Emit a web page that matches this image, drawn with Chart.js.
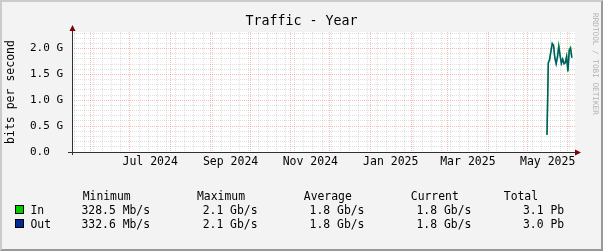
<!DOCTYPE html>
<html>
<head>
<meta charset="utf-8">
<script src="https://cdn.jsdelivr.net/npm/chart.js@4.4.0/dist/chart.umd.min.js"></script>
<style>
  html, body { margin: 0; padding: 0; background: #f3f3f3; }
  #wrap { position: relative; width: 603px; height: 251px; background: #f3f3f3; overflow: hidden;
          font-family: 'DejaVu Sans Mono', monospace; color: #000; }
  #chart { position: absolute; left: 0; top: 0; }
  #title { position: absolute; left: 0; top: 13px; width: 603px; text-align: center;
           font-size: 13.3px; line-height: 16px; }
  #credit { position: absolute; left: 590px; top: 13px; writing-mode: vertical-rl;
            font-size: 7.7px; line-height: 10px; color: #b0b0b0; white-space: nowrap; }
  .lg { position: absolute; font-size: 11.4px; line-height: 14px; white-space: pre; }
  .box { position: absolute; left: 15px; width: 7px; height: 7px; border: 1px solid #000; }
  #frame { position: absolute; left: 0; top: 0; width: 603px; height: 251px; box-sizing: border-box;
           border: 2px solid; border-color: #cbcbcb #999 #999 #cbcbcb; pointer-events: none; }
</style>
</head>
<body>
<div id="wrap">
  <canvas id="chart" width="603" height="251"></canvas>
  <div id="title">Traffic - Year</div>
  <div id="credit">RRDTOOL / TOBI OETIKER</div>
  <div id="legend"></div>
  <div id="frame"></div>
</div>
<script>
// daily samples (Gb/s)
const dates = ['2025-05-16', '2025-05-17', '2025-05-18', '2025-05-19', '2025-05-20',
               '2025-05-21', '2025-05-22', '2025-05-23', '2025-05-24', '2025-05-25',
               '2025-05-26', '2025-05-27', '2025-05-28', '2025-05-29', '2025-05-30',
               '2025-05-31', '2025-06-01', '2025-06-02', '2025-06-03', '2025-06-04'];
const inGbps = [0.3285, 1.73, 1.80, 1.96, 2.09, 2.07, 1.83, 1.72, 1.85, 2.06,
                1.88, 1.72, 1.80, 1.72, 1.74, 1.85, 1.55, 1.98, 2.02, 1.83];
const outGbps = [0.3326, 1.72, 1.78, 1.94, 2.10, 2.05, 1.81, 1.70, 1.83, 2.03,
                 1.86, 1.71, 1.79, 1.70, 1.72, 1.84, 1.57, 1.96, 2.00, 1.82];

// visible time window and y range
const viewStart = '2024-05-17T17:00Z';
const viewEnd = '2025-06-06T10:00Z';
const yMax = 2.32;

// tick labels
const monthNames = ['Jan', 'Feb', 'Mar', 'Apr', 'May', 'Jun', 'Jul', 'Aug', 'Sep', 'Oct', 'Nov', 'Dec'];
const xLabelMonths = ['2024-07', '2024-09', '2024-11', '2025-01', '2025-03', '2025-05'];
const yLabelValues = [0, 0.5, 1.0, 1.5, 2.0];

// legend table
const legendHeaders = ['Minimum', 'Maximum', 'Average', 'Current', 'Total'];
const seriesNames = ['In', 'Out'];
const minimums = ['328.5 Mb/s', '332.6 Mb/s'];
const maximums = ['2.1 Gb/s', '2.1 Gb/s'];
const averages = ['1.8 Gb/s', '1.8 Gb/s'];
const currents = ['1.8 Gb/s', '1.8 Gb/s'];
const totals = ['3.1 Pb', '3.0 Pb'];

const IN_COLOR = '#00cc00';
const OUT_COLOR = '#002a97';
const MINOR = 'rgba(150,150,150,0.3)';
const MAJOR = 'rgba(250,90,90,0.42)';
const FONT = 'DejaVu Sans Mono';

const BASE = Date.UTC(2024, 0, 1);   // a Monday
const dayOf = s => (Date.parse(s) - BASE) / 864e5;
const xMin = dayOf(viewStart);
const xMax = dayOf(viewEnd);

// x ticks: weekly minor lines, month major lines, mid-month labels
function buildXTicks() {
  const ticks = [];
  const months = new Set();
  const d0 = new Date(BASE + xMin * 864e5);
  let y = d0.getUTCFullYear(), m = d0.getUTCMonth() + 1;
  while (true) {
    const d = (Date.UTC(y, m, 1) - BASE) / 864e5;
    if (d > xMax) break;
    months.add(d);
    ticks.push({ value: d, kind: 'month' });
    m++;
  }
  for (let d = Math.ceil(xMin / 7) * 7; d <= xMax; d += 7) {
    if (!months.has(d)) ticks.push({ value: d, kind: 'week' });
  }
  xLabelMonths.forEach(s => {
    const [yy, mm] = s.split('-').map(Number);
    const a = (Date.UTC(yy, mm - 1, 1) - BASE) / 864e5;
    const b = (Date.UTC(yy, mm, 1) - BASE) / 864e5;
    ticks.push({ value: (a + b) / 2, kind: 'label', text: monthNames[mm - 1] + ' ' + yy });
  });
  return ticks.sort((a, b) => a.value - b.value);
}

const plotBg = {
  id: 'plotBg',
  beforeDraw(chart) {
    const { ctx, chartArea: a } = chart;
    ctx.save();
    ctx.fillStyle = '#ffffff';
    ctx.fillRect(a.left, a.top, a.right - a.left, a.bottom - a.top);
    ctx.restore();
  }
};

const rrdAxes = {
  id: 'rrdAxes',
  afterDraw(chart) {
    const { ctx, chartArea: a } = chart;
    ctx.save();
    ctx.strokeStyle = '#303030';
    ctx.lineWidth = 1;
    ctx.beginPath();
    ctx.moveTo(a.left - 4, a.bottom + 0.5);
    ctx.lineTo(a.right + 1, a.bottom + 0.5);
    ctx.moveTo(a.left + 0.5, a.bottom + 3);
    ctx.lineTo(a.left + 0.5, a.top - 2);
    ctx.stroke();
    ctx.fillStyle = '#7f0000';
    ctx.beginPath();
    ctx.moveTo(a.left - 2.5, a.top - 1);
    ctx.lineTo(a.left + 3.5, a.top - 1);
    ctx.lineTo(a.left + 0.5, a.top - 7);
    ctx.closePath();
    ctx.fill();
    ctx.beginPath();
    ctx.moveTo(a.right, a.bottom - 2.5);
    ctx.lineTo(a.right, a.bottom + 3.5);
    ctx.lineTo(a.right + 6, a.bottom + 0.5);
    ctx.closePath();
    ctx.fill();
    ctx.restore();
  }
};

new Chart(document.getElementById('chart'), {
  type: 'line',
  data: {
    datasets: [{
      label: 'In',
      data: dates.map((d, i) => ({ x: dayOf(d), y: inGbps[i] })),
      borderColor: IN_COLOR,
      borderWidth: 1.5,
      pointRadius: 0,
      tension: 0,
      order: 1
    }, {
      label: 'Out',
      data: dates.map((d, i) => ({ x: dayOf(d), y: outGbps[i] })),
      borderColor: 'rgba(0,42,151,0.7)',
      borderWidth: 1.5,
      pointRadius: 0,
      tension: 0,
      order: 0
    }]
  },
  options: {
    responsive: false,
    animation: false,
    layout: { padding: { left: 0, right: 28, top: 32, bottom: 0 } },
    plugins: { legend: { display: false }, tooltip: { enabled: false } },
    scales: {
      x: {
        type: 'linear', min: xMin, max: xMax, bounds: 'data',
        afterBuildTicks: s => { s.ticks = buildXTicks(); },
        afterFit: s => { s.height = 99; },
        grid: {
          drawTicks: false, lineWidth: 1,
          color: c => {
            const k = c.tick && c.tick.kind;
            return k === 'month' ? MAJOR : k === 'week' ? MINOR : 'rgba(0,0,0,0)';
          }
        },
        border: { display: false, dash: [1, 1] },
        ticks: {
          autoSkip: false, maxRotation: 0, padding: 3, color: '#000',
          font: { family: FONT, size: 11.5 },
          callback: (v, i, ticks) => (ticks[i] && ticks[i].kind === 'label') ? ticks[i].text : ''
        }
      },
      y: {
        min: 0, max: yMax,
        afterBuildTicks: s => {
          const t = [];
          for (let i = 0; i <= Math.floor(yMax * 10); i++) t.push({ value: i / 10 });
          s.ticks = t;
        },
        afterFit: s => { s.width = 72; },
        grid: {
          drawTicks: false, lineWidth: 1,
          color: c => {
            const r = Math.round(c.tick.value * 10);
            if (r === 0) return 'rgba(0,0,0,0)';
            return r % 5 === 0 ? MAJOR : MINOR;
          }
        },
        border: { display: false, dash: [1, 1] },
        ticks: {
          autoSkip: false, padding: 9, color: '#000',
          font: { family: FONT, size: 11 },
          callback: v => {
            const hit = yLabelValues.find(l => Math.abs(l - v) < 1e-6);
            if (hit === undefined) return '';
            return hit === 0 ? '0.0  ' : hit.toFixed(1) + ' G';
          }
        },
        title: {
          display: true, text: 'bits per second', color: '#000',
          font: { family: FONT, size: 11.5 },
          padding: { top: 4, bottom: 0 }
        }
      }
    }
  },
  plugins: [plotBg, rrdAxes]
});

// rrdtool style text legend
const legend = document.getElementById('legend');
function cell(text, left, top) {
  const el = document.createElement('div');
  el.className = 'lg';
  el.textContent = text;
  el.style.left = left + 'px';
  el.style.top = top + 'px';
  legend.appendChild(el);
}
const headerX = [82.7, 197, 303.8, 410.8, 503.8];
const valueX = [81.5, 202.7, 309.6, 416.5, 523];
legendHeaders.forEach((h, i) => cell(h, headerX[i], 188.5));
const boxColors = [IN_COLOR, OUT_COLOR];
seriesNames.forEach((name, r) => {
  const top = 202.5 + r * 14;
  const box = document.createElement('div');
  box.className = 'box';
  box.style.top = (top + 2) + 'px';
  box.style.background = boxColors[r];
  legend.appendChild(box);
  cell(name, 30.5, top);
  [minimums[r], maximums[r], averages[r], currents[r], totals[r]]
    .forEach((v, i) => cell(v, valueX[i], top));
});
</script>
</body>
</html>
